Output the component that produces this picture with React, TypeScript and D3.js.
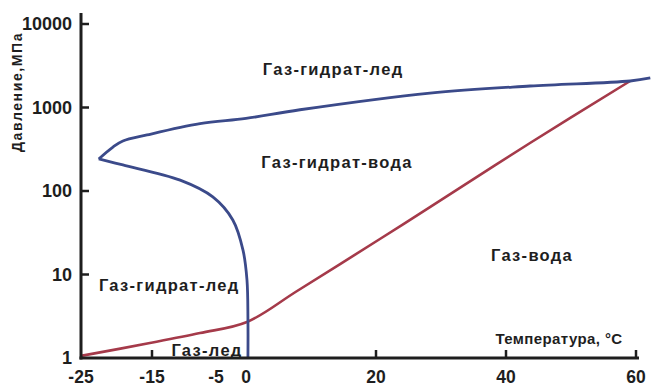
import { useMemo } from "react";
import * as d3 from "d3";

const WIDTH = 651;
const HEIGHT = 387;

// x axis is hand drawn in the original: negative side is slightly stretched
const X_DOMAIN = [-25, -15, -5, 0, 60];
const X_RANGE = [81, 152, 216, 246, 636];
const Y_DOMAIN = [1, 10000];
const Y_RANGE = [358, 24];

const xTickLabels = [-25, -15, -5, 0, 20, 40, 60];
const xTickMarks = [-15, 20, 40, 60];
const yTickLabels = [1, 10, 100, 1000, 10000];
const yTickMarks = [10, 100, 1000, 10000];

// blue hydrate boundary, lower branch (from the bottom up to the tip)
const hydrateLowT = [0.3, 0.3, 0.15, -0.5, -2.2, -5.5, -10.6, -19.1, -22.5];
const hydrateLowP = [1, 2.85, 8.6, 19.6, 45, 85, 135, 205, 242];

// blue hydrate boundary, upper branch (from the tip to the right edge)
const hydrateHighT = [-22.5, -20.5, -19.1, -15.7, -7.5, 0, 8.3, 28.3, 43.7, 59.1, 62.2];
const hydrateHighP = [242, 336, 397, 469, 640, 740, 940, 1490, 1809, 2077, 2256];

// red water/ice boundary
const iceT = [-25, -15.3, -7.5, 0.15, 7.8, 20.6, 28.3, 43.7, 59.1];
const iceP = [1.06, 1.51, 1.99, 2.7, 6.3, 26.6, 64, 376, 2077];

// region labels (centre, in data units)
const regionNames = ["Газ-гидрат-лед", "Газ-гидрат-вода", "Газ-вода", "Газ-гидрат-лед", "Газ-лед"];
const regionT = [13.4, 14, 44, -12.3, -6.4];
const regionP = [2890, 222, 17.1, 7.5, 1.25];

const BLUE = "#3b4a8a";
const RED = "#a53a4a";
const INK = "#1e1e1e";
const FONT = "'Liberation Sans', Arial, sans-serif";

const toPoints = (ts: number[], ps: number[]) => ts.map((t, i) => [t, ps[i]] as [number, number]);

export default function App() {
  const xScale = useMemo(() => d3.scaleLinear().domain(X_DOMAIN).range(X_RANGE), []);
  const yScale = useMemo(() => d3.scaleLog().domain(Y_DOMAIN).range(Y_RANGE), []);

  const line = d3
    .line<[number, number]>()
    .x((d) => xScale(d[0]))
    .y((d) => yScale(d[1]))
    .curve(d3.curveCatmullRom.alpha(0.5));

  const x0 = xScale(-25);
  const y0 = yScale(1);

  return (
    <svg
      width={WIDTH}
      height={HEIGHT}
      style={{ position: "absolute", left: 0, top: 0, background: "#fff" }}
      fontFamily={FONT}
      fontWeight="bold"
      fill={INK}
    >
      {/* curves */}
      <path d={line(toPoints(iceT, iceP)) ?? ""} fill="none" stroke={RED} strokeWidth={2.6} />
      <path d={line(toPoints(hydrateLowT, hydrateLowP)) ?? ""} fill="none" stroke={BLUE} strokeWidth={2.8} />
      <path d={line(toPoints(hydrateHighT, hydrateHighP)) ?? ""} fill="none" stroke={BLUE} strokeWidth={2.8} />

      {/* axes */}
      <line x1={x0} x2={x0} y1={13} y2={y0 + 1.5} stroke={INK} strokeWidth={3} />
      <line x1={x0 - 1.5} x2={639} y1={y0} y2={y0} stroke={INK} strokeWidth={3} />
      {yTickMarks.map((v) => (
        <line key={v} x1={x0} x2={x0 + 8} y1={yScale(v)} y2={yScale(v)} stroke={INK} strokeWidth={2.5} />
      ))}
      {xTickMarks.map((v) => (
        <line key={v} x1={xScale(v)} x2={xScale(v)} y1={y0} y2={y0 - 8} stroke={INK} strokeWidth={2.5} />
      ))}

      {/* tick labels */}
      {yTickLabels.map((v) => (
        <text key={v} x={72} y={yScale(v)} textAnchor="end" dominantBaseline="central" fontSize={18}>
          {v}
        </text>
      ))}
      {xTickLabels.map((v) => (
        <text key={v} x={xScale(v)} y={383} textAnchor="middle" fontSize={17.5}>
          {v}
        </text>
      ))}

      {/* region labels */}
      {regionNames.map((name, i) => (
        <text
          key={i}
          x={xScale(regionT[i])}
          y={yScale(regionP[i])}
          textAnchor="middle"
          dominantBaseline="central"
          fontSize={16.5}
          letterSpacing={1.3}
        >
          {name}
        </text>
      ))}

      {/* axis titles */}
      <text x={559} y={338} textAnchor="middle" dominantBaseline="central" fontSize={15} letterSpacing={0.4}>
        Температура, °C
      </text>
      <text
        transform={`translate(17,${92}) rotate(-90)`}
        textAnchor="middle"
        dominantBaseline="central"
        fontSize={14}
        letterSpacing={1.6}
      >
        Давление,МПа
      </text>
    </svg>
  );
}
